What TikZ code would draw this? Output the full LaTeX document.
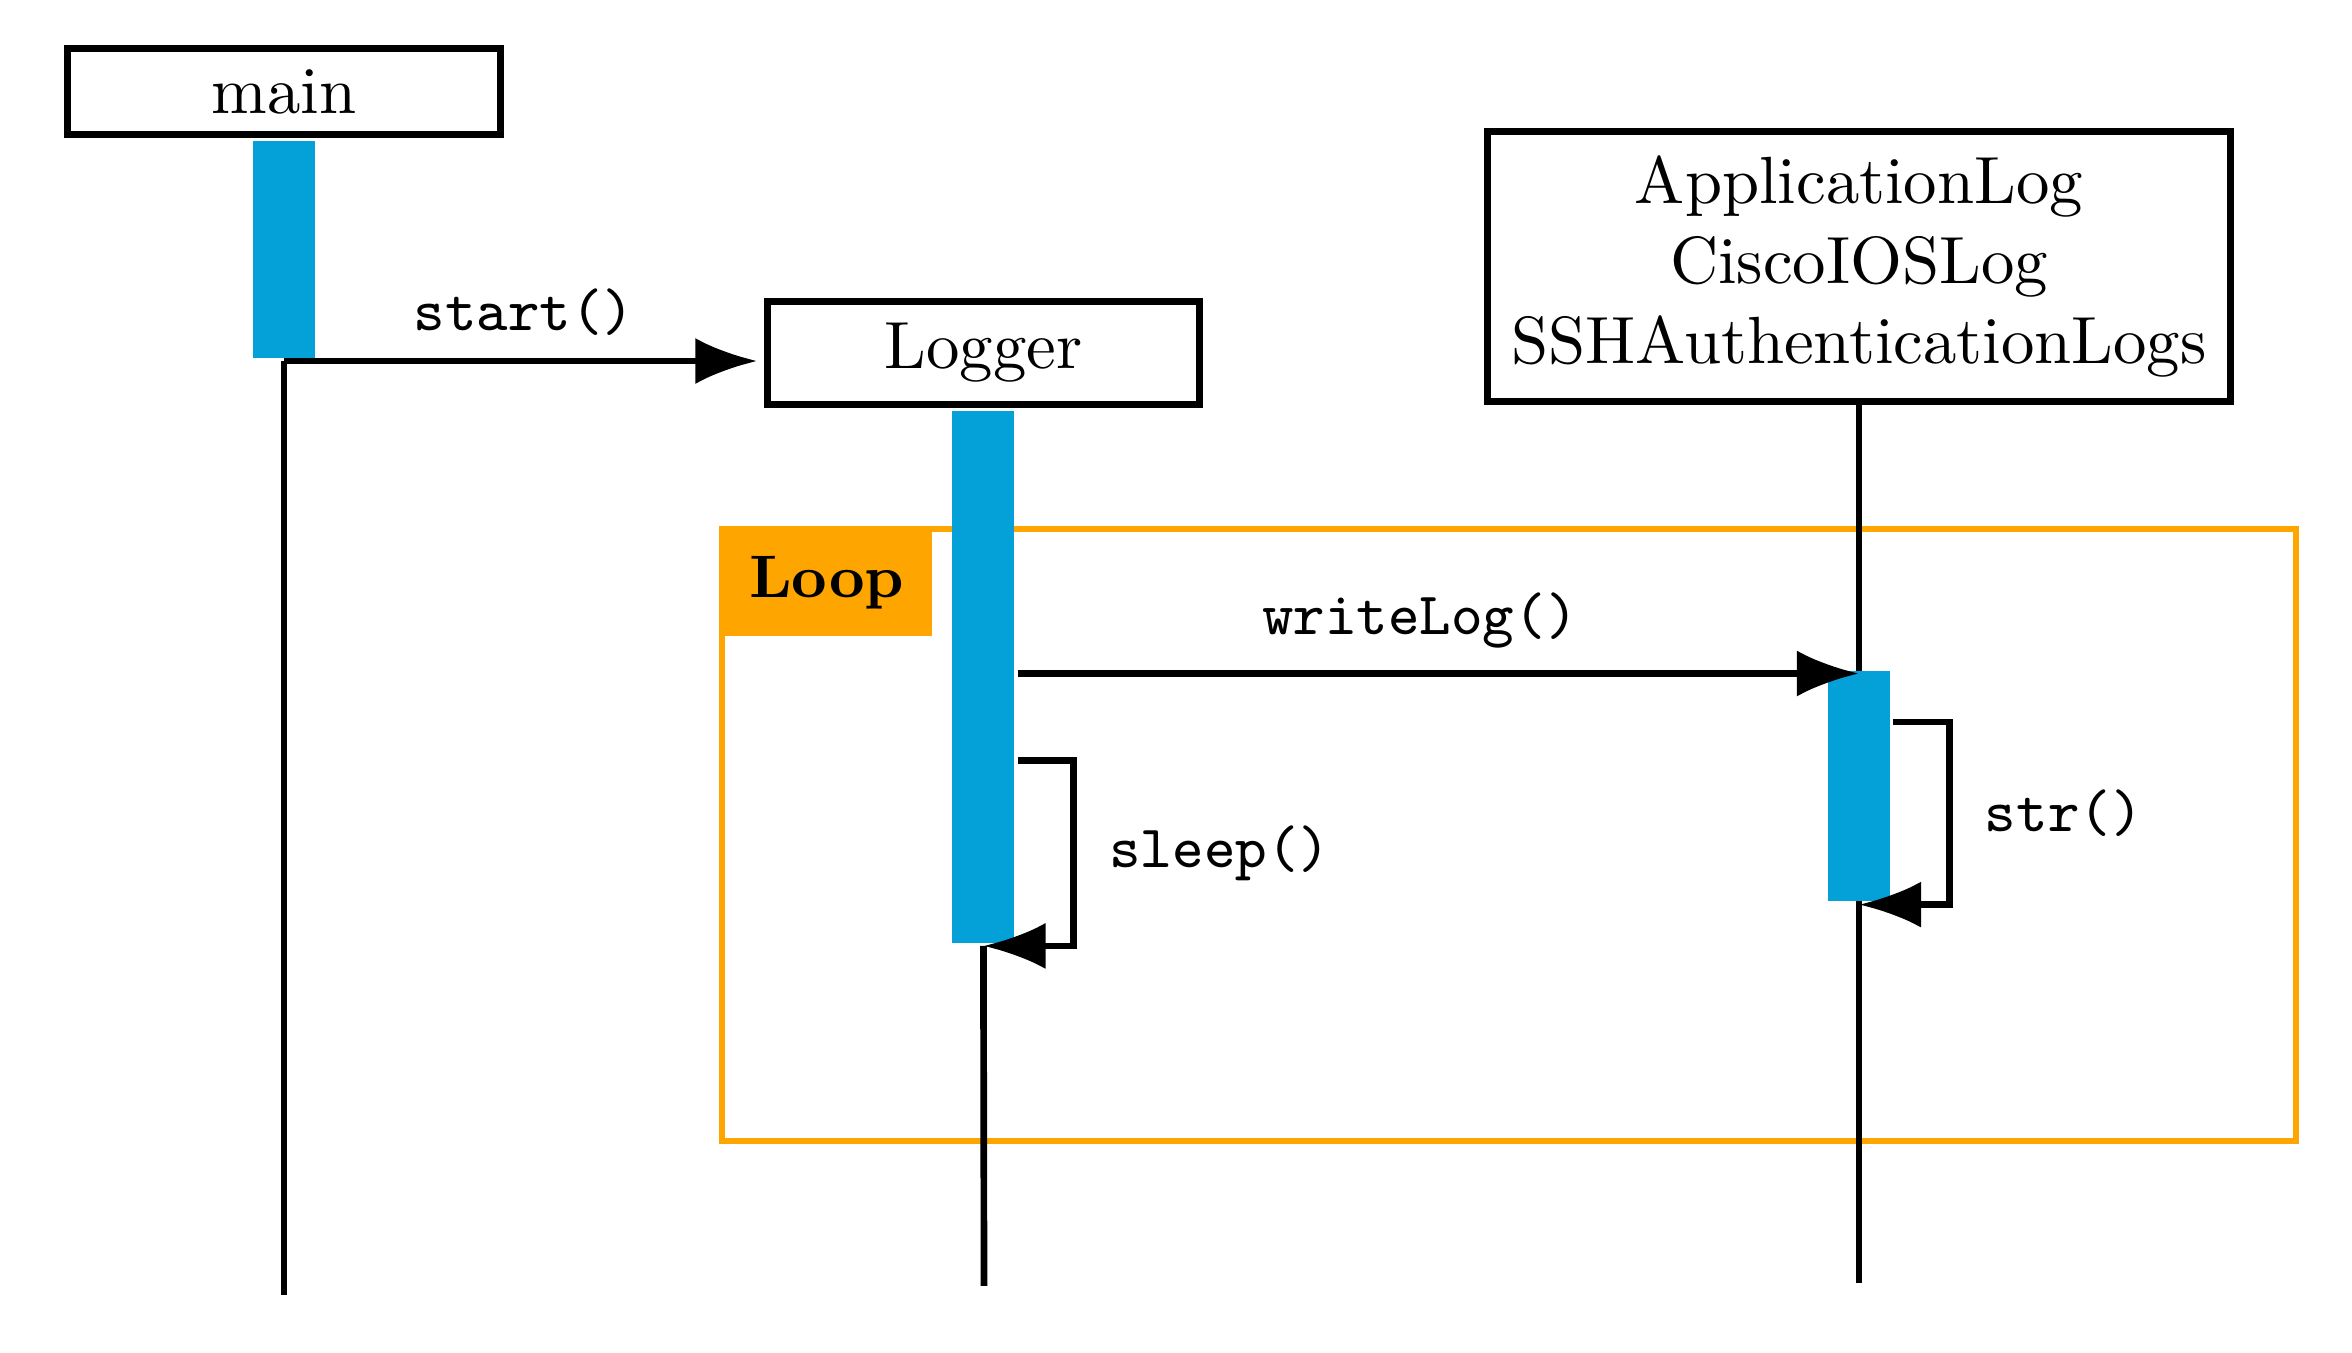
\documentclass[tikz,border=0pt]{standalone}
\usepackage{tikz}
\usetikzlibrary{arrows.meta}
\definecolor{actblue}{RGB}{4,160,216}
\definecolor{looporange}{RGB}{255,165,0}

\begin{document}
\begin{tikzpicture}[line width=1pt,
  obj/.style={draw,inner sep=0pt,align=center},
  act/.style={fill=actblue,inner sep=0pt,minimum width=0.326cm,anchor=north},
  msg/.style={-{Latex[length=9.3pt,width=6.9pt]}},
  call/.style={font=\small\ttfamily}]
  \useasboundingbox (0,0) rectangle (12.379,-7.116);
  \draw[looporange] (3.8,-2.784) rectangle (12.084,-6.005);
  \node[fill=looporange,anchor=north west,inner sep=0pt,minimum width=1.11cm,minimum height=0.568cm,font=\small\bfseries] (looplbl) at (3.779,-2.763) {Loop};
  \node[obj,minimum width=2.279cm,minimum height=0.453cm] (main) at (1.495,-0.482) {main};
  \node[obj,minimum width=2.274cm,minimum height=0.542cm] (logger) at (5.176,-1.858) {Logger};
  \node[obj,minimum width=3.911cm,minimum height=1.421cm] (applog) at (9.784,-1.403) {ApplicationLog\\CiscoIOSLog\\SSHAuthenticationLogs};
  \node[act,minimum height=1.139cm] (mainact) at (main.south) {};
  \node[act,minimum height=2.797cm] (logact) at (logger.south) {};
  \coordinate (mainend) at (1.495,-6.816);
  \coordinate (loggerend) at (5.179,-6.768);
  \coordinate (applogend) at (9.784,-6.751);
  \foreach \a/\b in {mainact/mainend,logact/loggerend,applog/applogend}
    \draw (\a.south) -- (\b);
  \node[act,minimum height=1.21cm] (appact) at (9.784,-3.516) {};
  \coordinate (wl) at (0,-3.545);
  \coordinate (sl) at (0,-4.004);
  \coordinate (st) at (0,-3.8);
  \draw[msg,shorten >=1pt] (mainact.south) -- (mainact.south -| logger.west)
    node[midway,above,call] {start()};
  \draw[msg] (logact.east |- wl) -- (appact.center |- wl)
    node[pos=0.478,above,call] {writeLog()};
  \draw[msg] (logact.east |- sl) -- ++(0.295,0) |- (logact.south)
    node[pos=0.25,right=1.5pt,call] {sleep()};
  \draw[msg] (appact.east |- st) -- ++(0.295,0) |- (appact.south)
    node[pos=0.25,right=1.5pt,call] {str()};
\end{tikzpicture}
\end{document}
